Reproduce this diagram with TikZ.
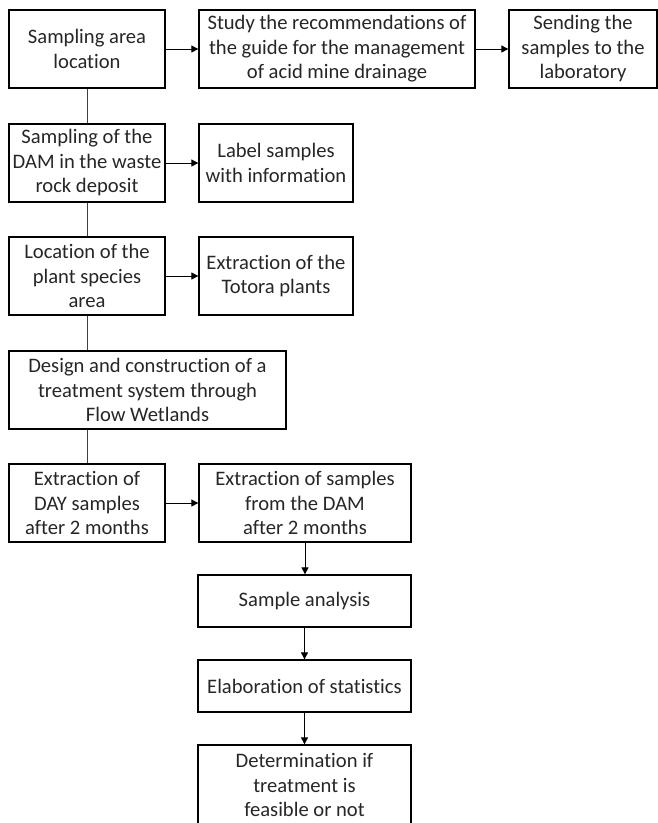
\documentclass[tikz,border=0pt]{standalone}
\usepackage{fontspec}
\setmainfont[Ligatures=NoCommon]{Carlito}
\usetikzlibrary{arrows.meta}
\begin{document}
\begin{tikzpicture}[x=1pt,y=-1pt,
  box/.style={draw=black,line width=1.3pt,inner sep=0pt,align=center,
    font=\fontsize{20.6}{24.5}\selectfont,text=black!85},
  link/.style={draw=black!75,line width=0.9pt},
  arr/.style={draw=black,line width=0.9pt,-{Triangle[length=7pt,width=7pt]}}]
\useasboundingbox (0,0) rectangle (658,823);
\begin{scope}
\clip (0,0) rectangle (658,823);
\newcommand{\bx}[6]{\node[box,minimum width=#4-#2,minimum height=#5-#3] (#1) at ({(#2+#4)/2},{(#3+#5)/2}) {#6};}
\bx{a}{9}{10}{165}{88}{Sampling area\\location}
\bx{b}{199}{10}{475}{88}{Study the recommendations of\\the guide for the management\\of acid mine drainage}
\bx{c}{509}{10}{657}{88}{Sending the\\samples to the\\laboratory}
\bx{d}{9}{124}{165}{202}{Sampling of the\\DAM in the waste\\rock deposit}
\bx{e}{199}{124}{353}{202}{Label samples\\with information}
\bx{f}{9}{237}{165}{315}{Location of the\\plant species\\area}
\bx{g}{199}{237}{353}{315}{Extraction of the\\Totora plants}
\bx{h}{9}{351}{286}{429}{Design and construction of a\\treatment system through\\Flow Wetlands}
\bx{i}{9}{464}{165}{542}{Extraction of\\DAY samples\\after 2 months}
\bx{j}{199}{464}{411}{542}{Extraction of samples\\from the DAM\\after 2 months}
\bx{k}{198}{575}{411}{627}{Sample analysis}
\bx{l}{198}{660}{411}{712}{Elaboration of statistics}
\bx{m}{198}{745}{411}{825}{Determination if\\treatment is\\feasible or not}
\draw[link] (a) -- (d);
\draw[link] (d) -- (f);
\draw[link] (f.south) -- (f.south |- h.north);
\draw[link] (i.north |- h.south) -- (i);
\draw[arr] (a) -- (b);
\draw[arr] (b) -- (c);
\draw[arr] (d) -- (e);
\draw[arr] (f) -- (g);
\draw[arr] (i) -- (j);
\draw[arr] (j.south) -- (j.south |- k.north);
\draw[arr] (k) -- (l);
\draw[arr] (l.south) -- (l.south |- m.north);
\end{scope}
\end{tikzpicture}
\end{document}
